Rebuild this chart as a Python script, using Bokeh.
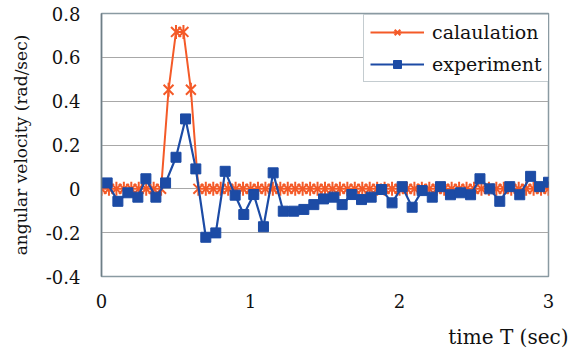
import math
from bokeh.plotting import figure
from bokeh.models import Range1d, FixedTicker, Legend, LegendItem, Title
from bokeh.embed import file_html
from bokeh.resources import INLINE

# calculation series (time in sec, angular velocity in rad/sec)
calc_t = [0.00, 0.05, 0.10, 0.15, 0.20, 0.25, 0.30, 0.35, 0.40, 0.45,
          0.50, 0.55, 0.60, 0.65, 0.70, 0.75, 0.80, 0.85, 0.90, 0.95,
          1.00, 1.05, 1.10, 1.15, 1.20, 1.25, 1.30, 1.35, 1.40, 1.45,
          1.50, 1.55, 1.60, 1.65, 1.70, 1.75, 1.80, 1.85, 1.90, 1.95,
          2.00, 2.05, 2.10, 2.15, 2.20, 2.25, 2.30, 2.35, 2.40, 2.45,
          2.50, 2.55, 2.60, 2.65, 2.70, 2.75, 2.80, 2.85, 2.90, 2.95,
          3.00]
calc_v = [0, 0, 0, 0, 0, 0, 0, 0, 0, 0.452,
          0.716, 0.716, 0.452, 0, 0, 0, 0, 0, 0, 0,
          0, 0, 0, 0, 0, 0, 0, 0, 0, 0,
          0, 0, 0, 0, 0, 0, 0, 0, 0, 0,
          0, 0, 0, 0, 0, 0, 0, 0, 0, 0,
          0, 0, 0, 0, 0, 0, 0, 0, 0, 0,
          0]

# experiment series
exp_t = [0.038, 0.110, 0.177, 0.244, 0.298, 0.365, 0.430, 0.500, 0.564, 0.633,
         0.700, 0.767, 0.830, 0.897, 0.955, 1.022, 1.087, 1.152, 1.220, 1.290,
         1.358, 1.425, 1.490, 1.560, 1.615, 1.680, 1.745, 1.810, 1.880, 1.950,
         2.018, 2.085, 2.152, 2.220, 2.275, 2.342, 2.410, 2.477, 2.540, 2.606,
         2.673, 2.740, 2.807, 2.880, 2.940, 3.000, 3.067]
exp_v = [0.027, -0.057, -0.018, -0.038, 0.046, -0.038, 0.027, 0.144, 0.319, 0.091,
         -0.221, -0.201, 0.080, -0.029, -0.117, -0.026, -0.173, 0.073, -0.102, -0.102,
         -0.094, -0.072, -0.046, -0.038, -0.072, -0.026, -0.049, -0.038, -0.003, -0.064,
         0.010, -0.084, -0.008, -0.038, 0.010, -0.027, -0.018, -0.027, 0.046, 0.000,
         -0.057, 0.010, -0.027, 0.057, 0.010, 0.030, -0.110]

x_ticks = [0, 1, 2, 3]
y_ticks = [-0.4, -0.2, 0, 0.2, 0.4, 0.6, 0.8]
y_tick_labels = ["-0.4", "-0.2", "0", "0.2", "0.4", "0.6", "0.8"]

ORANGE = "#F45A28"
BLUE = "#1C4BA5"
FONT = "DejaVu Serif"

p = figure(frame_width=447, frame_height=263, output_backend="svg", toolbar_location=None,
           x_range=Range1d(0, 3), y_range=Range1d(-0.4, 0.8),
           min_border_left=101, min_border_top=13, min_border_right=20, min_border_bottom=81)
p.background_fill_color = "white"
p.border_fill_color = "white"
p.outline_line_color = "#8a9aa2"
p.outline_line_width = 1.5

# lines and markers
l1 = p.line(calc_t, calc_v, line_color=ORANGE, line_width=2)
s1 = p.scatter(calc_t, calc_v, marker="x", size=14, line_color=ORANGE, line_width=2)
s1b = p.scatter(calc_t, calc_v, marker="dash", angle=math.pi / 2, size=14,
                line_color=ORANGE, line_width=2)
l2 = p.line(exp_t, exp_v, line_color=BLUE, line_width=2.2)
s2 = p.scatter(exp_t, exp_v, marker="square", size=10, fill_color=BLUE, line_color=BLUE)

# axes
p.xaxis.ticker = FixedTicker(ticks=x_ticks)
p.yaxis.ticker = FixedTicker(ticks=y_ticks)
p.yaxis.major_label_overrides = dict(zip(y_ticks, y_tick_labels))
for ax in (p.xaxis[0], p.yaxis[0]):
    ax.major_tick_out = 0
    ax.major_tick_in = 0
    ax.minor_tick_out = 0
    ax.minor_tick_in = 0
    ax.major_label_text_font = FONT
    ax.major_label_text_font_size = "18px"
    ax.major_label_text_color = "#111111"
    ax.axis_label_text_font = FONT
    ax.axis_label_text_font_style = "normal"
    ax.axis_label_text_color = "#111111"
p.xaxis.axis_line_color = None
p.xaxis.major_label_standoff = 17
p.yaxis.axis_line_color = "#6e7e86"
p.yaxis.axis_line_width = 1.5
p.yaxis.major_label_standoff = 21
p.yaxis.axis_label = "angular velocity (rad/sec)"
p.yaxis.axis_label_text_font_size = "17px"
p.yaxis.axis_label_standoff = 12

p.xgrid.visible = False
p.ygrid.grid_line_color = "#a8a8a8"
p.ygrid.grid_line_width = 1

# x-axis title, right-aligned below the tick labels
xt = Title(text="time T (sec)", align="right", offset=-20, text_font=FONT,
           text_font_size="20px", text_font_style="normal", text_color="#111111")
if "standoff" in Title.properties():
    xt.standoff = xt.standoff + 15
else:
    p.xaxis.axis_label = "\u00a0"
    p.xaxis.axis_label_text_font_size = "4px"
    p.xaxis.axis_label_standoff = 10
p.add_layout(xt, "below")

legend = Legend(items=[LegendItem(label="calaulation", renderers=[l1, s1, s1b]),
                       LegendItem(label="experiment", renderers=[l2, s2])],
                location=(262, 194))
legend.label_text_font = FONT
legend.label_text_font_size = "19px"
legend.label_text_color = "#111111"
legend.glyph_width = 54
legend.glyph_height = 20
legend.label_height = 20
legend.label_standoff = 8
legend.padding = 6
legend.spacing = 10
legend.margin = 0
legend.border_line_color = "#8a9aa2"
legend.border_line_width = 1.5
legend.background_fill_color = "white"
legend.background_fill_alpha = 1
p.add_layout(legend)

open("out.html", "w").write(file_html(p, INLINE))
